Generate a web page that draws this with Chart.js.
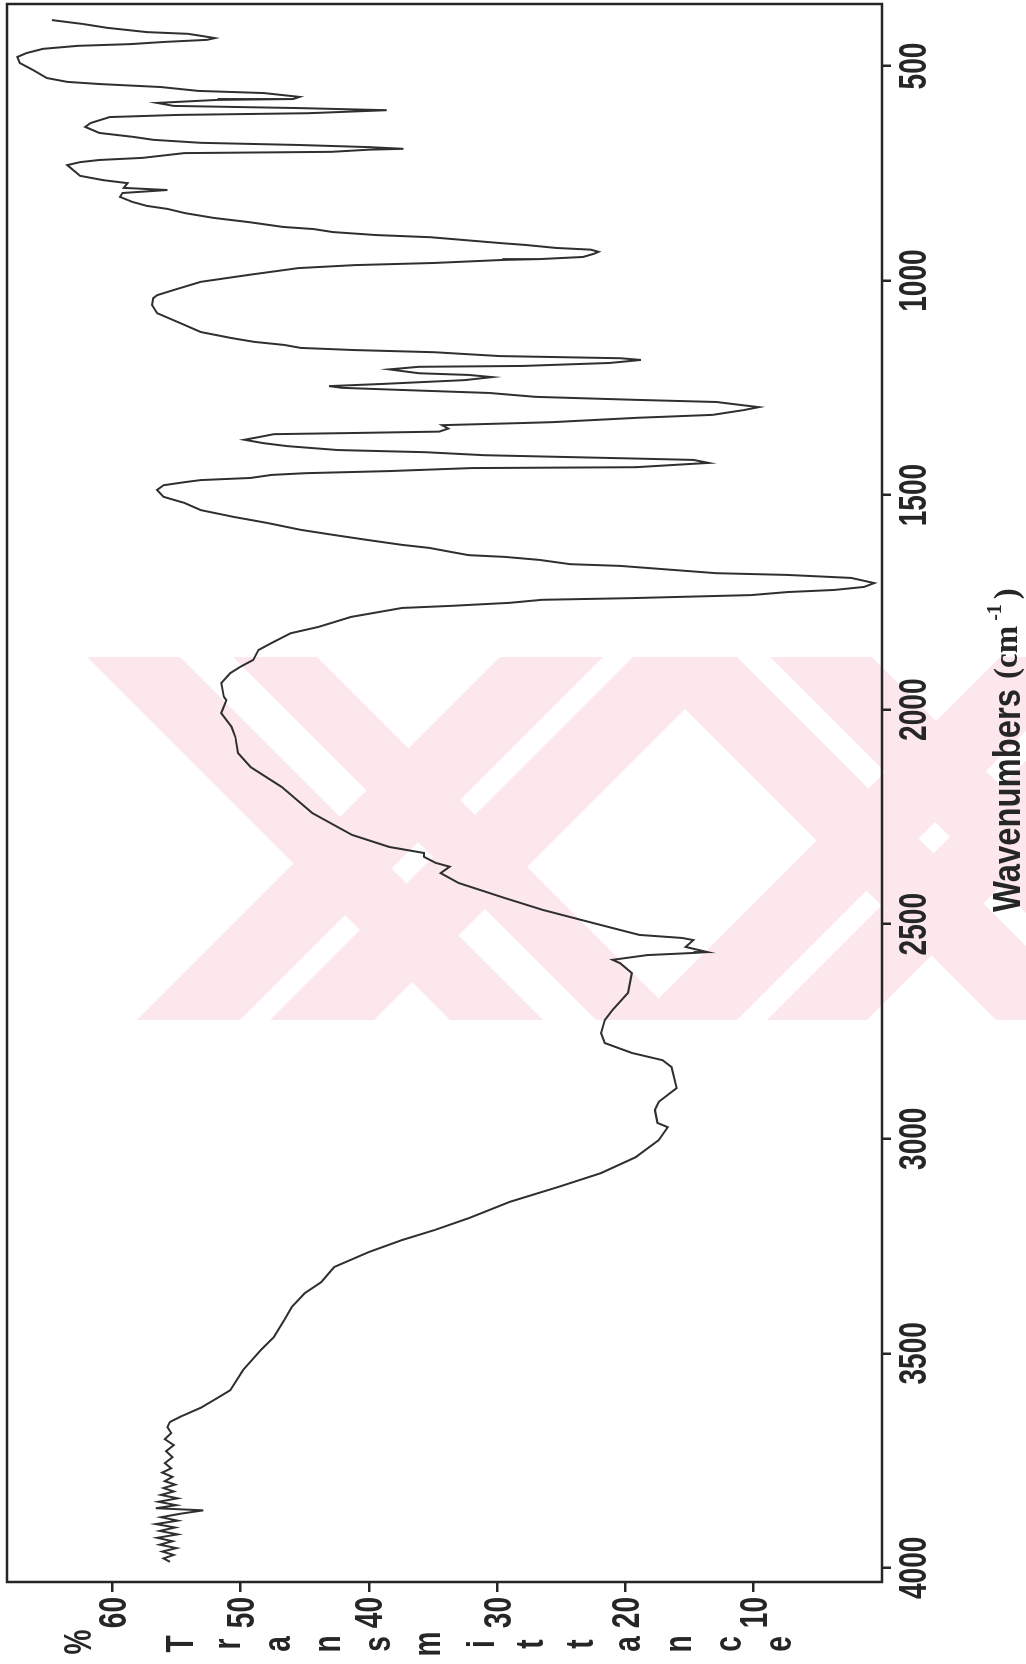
<!DOCTYPE html>
<html>
<head>
<meta charset="utf-8">
<title>IR spectrum</title>
<script src="https://cdn.jsdelivr.net/npm/chart.js@4.4.1/dist/chart.umd.min.js"></script>
<style>
  html, body { margin: 0; padding: 0; background: #fff; overflow: hidden; }
  #page { position: relative; width: 1026px; height: 1664px; }
  #mark { position: absolute; left: 0; top: 0; }
  /* the spectrum is drawn the usual way and the whole sheet is turned a quarter left */
  #turn { position: absolute; left: 0; top: 0; width: 1664px; height: 1026px;
          transform-origin: 0 0; transform: translateY(1664px) rotate(-90deg); }
</style>
</head>
<body>
<div id="page">
  <canvas id="mark" width="1026" height="1664"></canvas>
  <div id="turn"><canvas id="chart" width="1664" height="1026"></canvas></div>
</div>
<script>
// scan order, 4000 cm-1 down to 400 cm-1
let wavenumbers = [
  3986, 3978, 3970, 3962, 3954, 3946, 3938, 3930, 3922, 3914, 3906, 3898, 3890, 3882, 3874, 3866,
  3861, 3854, 3846, 3838, 3830, 3822, 3814, 3806, 3798, 3788, 3778, 3768, 3756, 3742, 3728, 3714,
  3700, 3686, 3672, 3660, 3648, 3627, 3604, 3586, 3539, 3492, 3462, 3423, 3392, 3360, 3334, 3299,
  3264, 3236, 3213, 3185, 3147, 3112, 3080, 3043, 3003, 2973, 2963, 2933, 2914, 2882, 2833, 2817,
  2800, 2777, 2754, 2723, 2700, 2660, 2614, 2591, 2583, 2572, 2567, 2565, 2553, 2537, 2532, 2525,
  2502, 2467, 2439, 2404, 2381, 2366, 2357, 2343, 2334, 2320, 2292, 2241, 2180, 2134, 2101, 2064,
  2040, 2008, 1978, 1970, 1938, 1915, 1900, 1884, 1861, 1845, 1822, 1807, 1784, 1763, 1758, 1751,
  1744, 1740, 1733, 1726, 1721, 1714, 1705, 1693, 1686, 1682, 1675, 1665, 1661, 1651, 1644, 1640,
  1633, 1623, 1616, 1605, 1593, 1581, 1565, 1551, 1535, 1518, 1504, 1488, 1477, 1470, 1465, 1460,
  1453, 1449, 1444, 1437, 1435, 1427, 1425, 1418, 1414, 1407, 1400, 1395, 1386, 1379, 1371, 1365,
  1358, 1355, 1352, 1345, 1337, 1332, 1330, 1320, 1313, 1302, 1295, 1290, 1283, 1278, 1271, 1262,
  1255, 1250, 1246, 1241, 1232, 1225, 1220, 1216, 1207, 1201, 1199, 1192, 1185, 1181, 1176, 1167,
  1162, 1157, 1150, 1143, 1134, 1120, 1099, 1076, 1057, 1041, 1034, 1022, 1003, 987, 971, 964,
  959, 952, 950, 945, 938, 933, 928, 924, 917, 913, 899, 894, 887, 880, 875, 864,
  854, 843, 833, 826, 817, 805, 796, 789, 784, 773, 766, 756, 731, 724, 719, 714,
  703, 700, 695, 693, 689, 684, 679, 672, 665, 656, 642, 633, 619, 614, 610, 603,
  598, 593, 586, 579, 577, 572, 563, 558, 549, 542, 537, 528, 509, 493, 479, 470,
  460, 453, 449, 444, 439, 435, 430, 425, 421, 411, 402, 393
];
let transmittance = [
  55.5, 56.0, 55.2, 56.1, 55.0, 56.3, 55.3, 56.5, 54.9, 56.3, 55.1, 56.6, 54.9, 56.2, 54.7, 52.9,
  56.6, 55.0, 56.4, 54.9, 56.2, 55.2, 56.0, 55.1, 55.9, 55.3, 56.1, 55.4, 55.9, 55.3, 55.8, 55.2,
  55.9, 55.4, 55.7, 55.5, 54.7, 53.1, 51.8, 50.8, 49.8, 48.4, 47.4, 46.6, 46.0, 45.0, 43.7, 42.7,
  40.0, 37.4, 34.9, 32.2, 29.0, 25.2, 21.9, 19.2, 17.4, 16.7, 17.5, 17.7, 17.4, 16.0, 16.4, 17.1,
  19.5, 21.6, 21.9, 21.6, 21.0, 19.8, 19.5, 20.4, 21.0, 18.3, 14.7, 13.6, 15.3, 14.7, 15.6, 18.9,
  21.9, 26.4, 29.4, 33.0, 34.4, 33.7, 34.8, 35.7, 35.7, 38.4, 41.3, 44.4, 46.8, 49.2, 50.2, 50.4,
  50.7, 51.5, 51.1, 51.3, 51.5, 50.8, 50.0, 49.0, 48.6, 47.6, 46.1, 43.9, 41.4, 37.4, 33.5, 29.0,
  26.5, 19.4, 10.2, 7.4, 3.7, 1.4, 0.6, 2.4, 7.4, 12.9, 16.0, 20.4, 24.3, 26.7, 29.4, 32.2,
  33.5, 35.3, 37.4, 40.0, 42.7, 45.3, 47.9, 50.5, 53.1, 54.4, 56.0, 56.5, 56.0, 54.4, 53.1, 49.2,
  47.6, 45.0, 38.4, 32.0, 19.2, 14.7, 13.5, 14.7, 20.4, 31.0, 35.6, 42.4, 46.3, 48.2, 49.7, 48.6,
  47.4, 40.6, 34.5, 33.8, 34.3, 28.0, 25.7, 19.2, 13.2, 10.8, 9.6, 11.0, 12.9, 19.2, 27.0, 30.6,
  37.4, 42.1, 43.1, 39.0, 32.5, 30.4, 32.2, 36.1, 38.4, 36.1, 28.0, 21.2, 18.8, 20.4, 29.8, 34.9,
  41.1, 45.3, 46.6, 48.9, 50.7, 53.1, 54.7, 56.5, 56.9, 56.8, 56.5, 55.2, 53.1, 49.4, 45.5, 41.1,
  34.9, 29.6, 26.7, 23.3, 22.5, 22.1, 22.7, 25.4, 27.8, 29.6, 35.2, 39.4, 42.8, 44.3, 46.7, 49.3,
  52.1, 54.3, 55.7, 57.3, 58.4, 59.4, 59.2, 55.7, 59.1, 58.8, 60.7, 62.5, 63.5, 62.5, 61.0, 57.6,
  54.4, 42.9, 40.0, 37.3, 40.0, 45.5, 53.1, 56.8, 58.4, 61.0, 62.1, 61.7, 60.2, 54.9, 44.7, 38.6,
  45.5, 55.2, 56.5, 51.8, 45.9, 45.4, 48.2, 53.3, 56.2, 61.0, 63.5, 65.1, 66.2, 67.2, 67.4, 66.7,
  65.4, 62.7, 58.6, 56.0, 52.6, 52.0, 53.0, 54.1, 57.3, 60.4, 62.3, 64.7
];
let waveTicks = [500, 1000, 1500, 2000, 2500, 3000, 3500, 4000];
let transTicks = [10, 20, 30, 40, 50, 60];
let xTitle = "Wavenumbers";
let xUnit = "(cm";
let xUnitPower = "-1";
let yTitleLetters = ["T", "r", "a", "n", "s", "m", "i", "t", "t", "a", "n", "c", "e"];
let yTitleSign = "%";

const ink = "#262626";
const sans = "bold 39px 'Liberation Sans', Arial, sans-serif";
const serif = "'Liberation Serif', 'DejaVu Serif', serif";
const squeeze = 0.72;

function makePoints() {
    let arr = [];
    wavenumbers.forEach((w, i) => {
        arr.push({ x: w, y: transmittance[i] });
    });
    return arr;
}

// faint pink stamp that sits behind the scan
function drawStamp() {
    let ctx = document.getElementById("mark").getContext("2d");
    let top = 657, bottom = 1020, run = bottom - top;
    // band edges along the top line; +1 leans down-right, -1 leans down-left
    let bands = [
        [87, 180, 1], [233, 317, 1], [500, 603, -1], [633, 737, -1],
        [633, 737, 1], [770, 872, 1], [1000, 1100, -1], [1130, 1230, -1]
    ];
    ctx.fillStyle = "#fce7ec";
    bands.forEach(b => {
        let d = b[2] * run;
        ctx.beginPath();
        ctx.moveTo(b[0], top);
        ctx.lineTo(b[1], top);
        ctx.lineTo(b[1] + d, bottom);
        ctx.lineTo(b[0] + d, bottom);
        ctx.closePath();
        ctx.fill();
    });
}

// narrow text like the plotter font: scale it sideways round its anchor
function narrowText(ctx, text, x, y, sx, align) {
    ctx.save();
    ctx.translate(x, y);
    ctx.scale(sx, 1);
    ctx.textAlign = align;
    ctx.fillText(text, 0, 0);
    ctx.restore();
}

// all the lettering plus the closed frame
const sheetText = {
    id: "sheetText",
    afterDraw(chart) {
        let ctx = chart.ctx;
        let area = chart.chartArea;
        let xs = chart.scales.x;
        let ys = chart.scales.y;
        ctx.save();

        ctx.strokeStyle = ink;
        ctx.lineWidth = 2.5;
        ctx.strokeRect(area.left, area.top, area.right - area.left, area.bottom - area.top);

        ctx.fillStyle = ink;
        ctx.textBaseline = "alphabetic";
        ctx.font = sans;
        let cap = ctx.measureText("0").actualBoundingBoxAscent;

        // wavenumber tick labels
        waveTicks.forEach(v => {
            narrowText(ctx, String(v), xs.getPixelForValue(v), 912 + cap / 2, squeeze, "center");
        });
        // transmittance tick labels
        transTicks.forEach(v => {
            narrowText(ctx, String(v), 67, ys.getPixelForValue(v) + cap / 2, squeeze, "right");
        });

        // x title
        let tw = ctx.measureText(xTitle).width;
        narrowText(ctx, xTitle, 752, 1020, 223 / tw, "left");

        ctx.font = "bold 33px " + serif;
        ctx.textAlign = "left";
        let x = 985;
        ctx.fillText(xUnit, x, 1017);
        x += ctx.measureText(xUnit).width + 5;
        ctx.font = "bold 20px " + serif;
        ctx.fillText(xUnitPower, x, 1001);
        x += ctx.measureText(xUnitPower).width + 5;
        ctx.font = "bold 33px " + serif;
        ctx.fillText(")", x, 1017);

        // y title, one letter under the other
        ctx.font = sans;
        let letter = (ch, cx, cy) => {
            let m = ctx.measureText(ch);
            let base = cy + (m.actualBoundingBoxAscent - m.actualBoundingBoxDescent) / 2;
            narrowText(ctx, ch, cx, base, squeeze, "center");
        };
        letter(yTitleSign, 22, 77);
        yTitleLetters.forEach((ch, i) => {
            letter(ch, 20, 179 + i * 50.1);
        });

        ctx.restore();
    }
};

function createChart() {
    let ctx = document.getElementById("chart");

    new Chart(ctx, {
        type: "scatter",
        data: {
            datasets: [{
                label: "%T",
                data: makePoints(),
                showLine: true,
                borderColor: "#2f2f2f",
                borderWidth: 2,
                pointRadius: 0,
                fill: false,
                tension: 0
            }]
        },
        options: {
            responsive: false,
            animation: false,
            layout: { padding: { left: 0, right: 4, top: 7, bottom: 0 } },
            plugins: {
                legend: { display: false },
                tooltip: { enabled: false }
            },
            scales: {
                x: {
                    type: "linear",
                    position: "bottom",
                    reverse: true,
                    min: 355.5,
                    max: 4033,
                    afterBuildTicks: axis => { axis.ticks = waveTicks.map(v => ({ value: v })); },
                    afterFit: axis => { axis.height = 144; },
                    grid: { drawOnChartArea: false, drawTicks: true, tickLength: 9, color: ink, lineWidth: 2.5 },
                    border: { display: false },
                    ticks: { display: false }
                },
                y: {
                    type: "linear",
                    position: "left",
                    min: 0,
                    max: 68.2,
                    afterBuildTicks: axis => { axis.ticks = transTicks.map(v => ({ value: v })); },
                    afterFit: axis => { axis.width = 82; },
                    grid: { drawOnChartArea: false, drawTicks: true, tickLength: 10, color: ink, lineWidth: 2.5 },
                    border: { display: false },
                    ticks: { display: false }
                }
            }
        },
        plugins: [sheetText]
    });
}

drawStamp();
createChart();
</script>
</body>
</html>
